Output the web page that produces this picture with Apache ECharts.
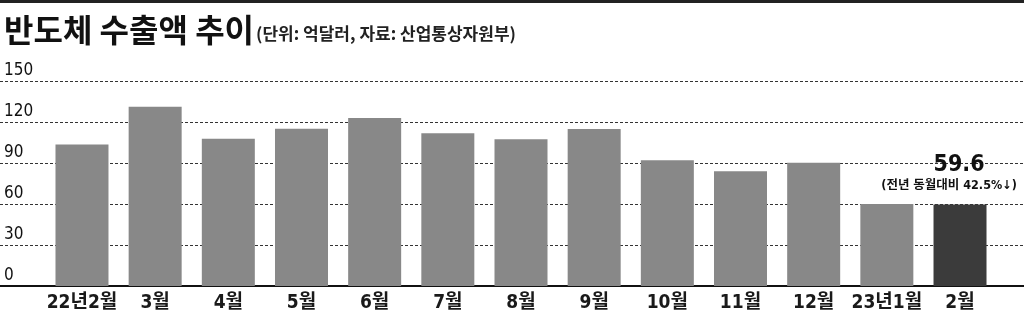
<!DOCTYPE html>
<html>
<head>
<meta charset="utf-8">
<script src="https://cdn.jsdelivr.net/npm/echarts@6/dist/echarts.min.js"></script>
<style>
html,body{margin:0;padding:0;background:#fff;}
#c{width:1024px;height:317px;}
</style>
</head>
<body>
<div id="c"></div>
<script>
const categories = ['22년2월','3월','4월','5월','6월','7월','8월','9월','10월','11월','12월','23년1월','2월'];
const exportValues = [103.5, 131.2, 107.8, 115.0, 123.0, 111.7, 107.4, 114.8, 92.0, 83.9, 90.2, 60.0, 59.6];
const yTicks = [0, 30, 60, 90, 120, 150];
const titleText = '반도체 수출액 추이';
const subtitleText = '(단위: 억달러, 자료: 산업통상자원부)';
const noteText = '(전년 동월대비 42.5%↓)';

const FONT = "'DejaVu Sans Condensed', 'Noto Sans CJK KR', sans-serif";
const chart = echarts.init(document.getElementById('c'), null, {renderer: 'canvas'});
const lastIdx = exportValues.length - 1;

chart.setOption({
  backgroundColor: '#ffffff',
  animation: false,
  title: [
    {text: titleText, left: -1, top: 9, textStyle: {fontFamily: "'Noto Sans CJK KR'", fontWeight: 'bold', fontSize: 32, color: '#111'}},
    {text: subtitleText, left: 251, top: 20, textStyle: {fontFamily: "'Noto Sans CJK KR'", fontWeight: 'bold', fontSize: 17, color: '#222'}}
  ],
  graphic: [
    {type: 'rect', shape: {x: 0, y: 0, width: 1024, height: 3}, style: {fill: '#222'}}
  ],
  grid: [
    {left: 45.4, right: 27.4, top: 81, bottom: 31},
    {left: 0, right: 0, top: 81, bottom: 31}
  ],
  xAxis: [
    {type: 'category', gridIndex: 0, data: categories,
     axisLine: {show: false}, axisTick: {show: false},
     axisLabel: {margin: 8, fontFamily: FONT, fontWeight: 'bold', fontSize: 19, color: '#1a1a1a', interval: 0}},
    {type: 'value', gridIndex: 1, min: 0, max: 1, show: true,
     axisLine: {show: true, lineStyle: {color: '#111', width: 2}},
     axisTick: {show: false}, axisLabel: {show: false}, splitLine: {show: false}}
  ],
  yAxis: [
    {type: 'value', gridIndex: 0, min: 0, max: 150, interval: 30, show: false},
    {type: 'value', gridIndex: 1, min: 0, max: 150, interval: 30,
     axisLine: {show: false}, axisTick: {show: false},
     axisLabel: {inside: true, margin: 4, verticalAlign: 'bottom', padding: [0, 0, 2, 0],
       fontFamily: FONT, fontSize: 17, color: '#111',
       formatter: v => yTicks.includes(v) ? String(v) : ''},
     splitLine: {show: true, lineStyle: {color: '#333', type: [3, 2], width: 1}}}
  ],
  series: [{
    type: 'bar', xAxisIndex: 0, yAxisIndex: 0, barWidth: 53,
    data: exportValues.map((v, i) => ({
      value: v,
      itemStyle: {color: i === lastIdx ? '#3b3b3b' : '#888888'},
      label: i === lastIdx ? {
        show: true, position: 'top', distance: 10, offset: [-11, 0],
        formatter: p => '{a|' + p.value + '}\n{b|' + noteText + '}',
        rich: {
          a: {fontFamily: FONT, fontWeight: 'bold', fontSize: 23, color: '#111', lineHeight: 24, align: 'center', padding: [0, 0, 0, 20]},
          b: {fontFamily: FONT, fontWeight: 'bold', fontSize: 12.5, color: '#111', lineHeight: 18, align: 'center'}
        }
      } : {show: false}
    }))
  }]
});
</script>
</body>
</html>
